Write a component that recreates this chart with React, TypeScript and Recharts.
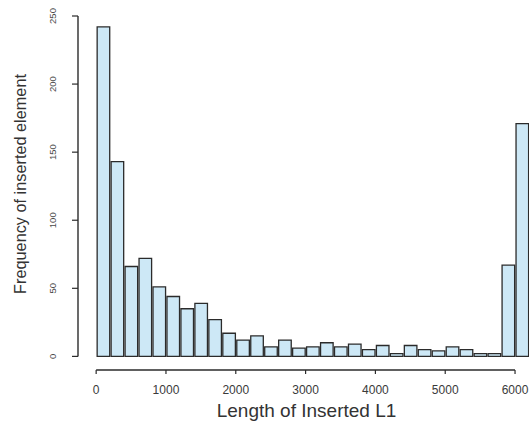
import { Bar, ComposedChart, ReferenceLine, XAxis, YAxis } from "recharts";

// histogram of inserted L1 lengths, 200 bp bins
const binStarts = [
  0, 200, 400, 600, 800, 1000, 1200, 1400, 1600, 1800, 2000, 2200, 2400, 2600, 2800, 3000,
  3200, 3400, 3600, 3800, 4000, 4200, 4400, 4600, 4800, 5000, 5200, 5400, 5600, 5800, 6000,
];
const frequencies = [
  242, 143, 66, 72, 51, 44, 35, 39, 27, 17, 12, 15, 7, 12, 6, 7,
  10, 7, 9, 5, 8, 2, 8, 5, 4, 7, 5, 2, 2, 67, 171,
];
const BIN_W = 200;
const lengthTicks = [0, 1000, 2000, 3000, 4000, 5000, 6000];
const freqTicks = [0, 50, 100, 150, 200, 250];

const W = 532;
const H = 431;
const MARGIN = { top: 16, right: 3, bottom: 0, left: 0 };
const Y_AXIS_W = 78;
const X_AXIS_H = 61;
// R keeps its axes detached from the bars: room left of 0 and below 0
const LEN_MIN = -260;
const LEN_MAX = 6200;
const FREQ_MIN = -10;
const FREQ_MAX = 250;

const plotW = W - MARGIN.left - MARGIN.right - Y_AXIS_W;
const barPx = (plotW * BIN_W) / (LEN_MAX - LEN_MIN);

const INK = "#2b2b2b";
const FONT = "'Liberation Sans', Arial, Helvetica, sans-serif";

const data = binStarts.map((start, i) => ({ mid: start + BIN_W / 2, count: frequencies[i] }));

function LengthTick({ x, y, payload }: any) {
  return (
    <text x={x} y={y} dy={18} textAnchor="middle" fontSize={12} fill="#3a3a3a" fontFamily={FONT}>
      {payload.value}
    </text>
  );
}

// tick mark + label turned sideways, the way base R draws the y axis
function FreqTick({ x, y, payload }: any) {
  const tx = x - 14;
  return (
    <g>
      <line x1={x + 2} x2={x + 8} y1={y} y2={y} stroke={INK} strokeWidth={1.2} />
      <text
        x={tx}
        y={y}
        transform={`rotate(-90, ${tx}, ${y})`}
        textAnchor="middle"
        fontSize={9.5}
        fill="#4a4a4a"
        fontFamily={FONT}
      >
        {payload.value}
      </text>
    </g>
  );
}

export default function App() {
  return (
    <div style={{ position: "absolute", left: 0, top: 0, background: "#fff" }}>
      <ComposedChart width={W} height={H} data={data} margin={MARGIN}>
        <XAxis
          dataKey="mid"
          type="number"
          domain={[LEN_MIN, LEN_MAX]}
          ticks={lengthTicks}
          interval={0}
          allowDataOverflow
          height={X_AXIS_H}
          axisLine={false}
          tickLine={{ stroke: INK, strokeWidth: 1.2 }}
          tickSize={4}
          tick={<LengthTick />}
          label={{
            content: ({ viewBox }: any) => (
              <text
                x={viewBox.x + viewBox.width / 2 + 3}
                y={viewBox.y + 47}
                textAnchor="middle"
                fontSize={19}
                fill="#333"
                fontFamily={FONT}
              >
                Length of Inserted L1
              </text>
            ),
          }}
        />
        <YAxis
          type="number"
          domain={[FREQ_MIN, FREQ_MAX]}
          ticks={freqTicks}
          interval={0}
          allowDataOverflow
          width={Y_AXIS_W}
          axisLine={false}
          tickLine={false}
          tickSize={6}
          tick={<FreqTick />}
          label={{
            content: () => {
              const lx = 26;
              const ly = 184;
              return (
                <text
                  x={lx}
                  y={ly}
                  transform={`rotate(-90, ${lx}, ${ly})`}
                  textAnchor="middle"
                  fontSize={16.3}
                  fill="#333"
                  fontFamily={FONT}
                >
                  Frequency of inserted element
                </text>
              );
            },
          }}
        />
        <Bar
          dataKey="count"
          barSize={barPx}
          fill="#cde8f6"
          stroke={INK}
          strokeWidth={1.3}
          isAnimationActive={false}
        />
        <ReferenceLine
          segment={[
            { x: LEN_MIN, y: freqTicks[0] },
            { x: LEN_MIN, y: freqTicks[freqTicks.length - 1] },
          ]}
          stroke={INK}
          strokeWidth={1.4}
          ifOverflow="visible"
        />
        <ReferenceLine
          segment={[
            { x: lengthTicks[0], y: FREQ_MIN },
            { x: lengthTicks[lengthTicks.length - 1], y: FREQ_MIN },
          ]}
          stroke={INK}
          strokeWidth={1.3}
          ifOverflow="visible"
        />
      </ComposedChart>
    </div>
  );
}
